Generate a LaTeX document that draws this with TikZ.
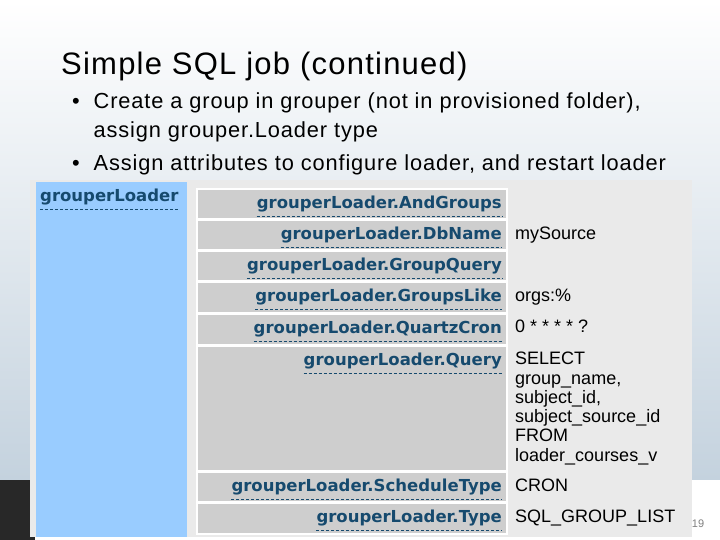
\documentclass[tikz,border=0pt]{standalone}
\usepackage{fontspec}
\setmainfont{Liberation Sans}
\newfontfamily\keyfont{DejaVu Sans}
\newfontfamily\slidefont[LetterSpace=4]{Liberation Sans}
\usetikzlibrary{positioning}
\definecolor{slidebg}{RGB}{196,210,222}
\definecolor{keyblue}{RGB}{22,74,110}
\definecolor{shotbg}{RGB}{234,234,234}
\definecolor{cellgray}{RGB}{206,206,206}
\definecolor{colblue}{RGB}{153,204,255}
\definecolor{darkband}{RGB}{40,40,40}
\begin{document}
\begin{tikzpicture}[x=1pt,y=-1pt,
    keycell/.style={fill=cellgray, draw=white, line width=1.5pt},
    keytext/.style={anchor=east, inner sep=0pt, font=\keyfont\bfseries\fontsize{16.5}{18}\selectfont, text=keyblue},
    valtext/.style={anchor=north west, inner sep=0pt, align=left, font=\fontsize{18}{19.3}\selectfont, text=black},
    keyline/.style={keyblue, densely dashed, line width=0.6pt}
]
\useasboundingbox (0,0) rectangle (720,540);
% slide background
\shade[top color=white, bottom color=slidebg] (0,0) rectangle (720,480);
\fill[white] (0,480) rectangle (720,540);
\fill[darkband] (0,480) rectangle (35,540);
\node[anchor=west, inner sep=0pt, font=\slidefont\fontsize{31}{33}\selectfont] (title) at (61,66) {Simple SQL job (continued)};
\node[anchor=north west, inner sep=0pt, align=left, font=\slidefont\fontsize{21.8}{29}\selectfont] (bullets) at (72,93)
  {\textbullet\ \ Create a group in grouper (not in provisioned folder),\\
   \hphantom{\textbullet\ \ }assign grouper.Loader type\\[4pt]
   \textbullet\ \ Assign attributes to configure loader, and restart loader};
\node[font=\fontsize{11}{12}\selectfont, text=gray] (page) at (698,524) {19};
% screenshot
\fill[shotbg] (30,180) rectangle (692,537);
\fill[colblue] (36,182) rectangle (187,537);
\node[keytext, anchor=north west] (owner) at (40,189) {grouperLoader};
\draw[keyline] (owner.south west) ++(0,4) -- ([yshift=-4pt]owner.south east);
% attribute rows: top, bottom, key
\foreach \top/\bot/\key in {
    189/219/AndGroups,
    220/250/DbName,
    251/281/GroupQuery,
    282/313/GroupsLike,
    314/345/QuartzCron,
    346/471/Query,
    472/502/ScheduleType,
    503/534/Type}{
  \fill[keycell] (197,\top) rectangle (507,\bot);
  \node[keytext] (k\key) at (502,\top+15) {grouperLoader.\key};
  \draw[keyline] (k\key.south west) ++(0,4) -- ([yshift=-4pt]k\key.south east);
}
\node[valtext] (vDbName) at (515,227) {mySource};
\node[valtext] (vGroupsLike) at (515,289) {orgs:\%};
\node[valtext] (vQuartzCron) at (515,320) {0 * * * * ?};
\node[valtext] (vQuery) at (515,352) {SELECT\\group\_name,\\subject\_id,\\subject\_source\_id\\FROM\\loader\_courses\_v};
\node[valtext] (vScheduleType) at (515,479) {CRON};
\node[valtext] (vType) at (515,510) {SQL\_GROUP\_LIST};
\end{tikzpicture}
\end{document}
